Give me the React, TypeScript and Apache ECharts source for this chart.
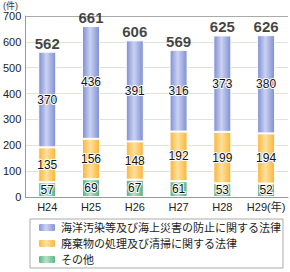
import React, { useEffect, useRef } from "react";
import * as echarts from "echarts";

const categories = ["H24", "H25", "H26", "H27", "H28", "H29(年)"];
const marinePollution = [370, 436, 391, 316, 373, 380];
const wasteDisposal = [135, 156, 148, 192, 199, 194];
const others = [57, 69, 67, 61, 53, 52];
const totals = [562, 661, 606, 569, 625, 626];
const seriesNames = [
  "海洋汚染等及び海上災害の防止に関する法律",
  "廃棄物の処理及び清掃に関する法律",
  "その他",
];

const FONT = "'Liberation Sans', Arial, 'Noto Sans CJK JP', sans-serif";

function grad(edge: string, mid: string) {
  return new echarts.graphic.LinearGradient(0, 0, 1, 0, [
    { offset: 0, color: edge },
    { offset: 0.45, color: mid },
    { offset: 1, color: edge },
  ]);
}

export default function App() {
  const ref = useRef<HTMLDivElement>(null);
  useEffect(() => {
    if (!ref.current) return;
    document.body.style.margin = "0";
    const chart = echarts.init(ref.current, undefined, { renderer: "svg" });
    const segLabel = {
      show: true,
      position: "inside" as const,
      color: "#111",
      fontSize: 12,
      fontFamily: FONT,
      textBorderColor: "#fff",
      textBorderWidth: 2,
    };
    chart.setOption({
      animation: false,
      textStyle: { fontFamily: FONT },
      grid: { left: 22, right: 2, top: 16, bottom: 75 },
      graphic: [
        {
          type: "text",
          left: 3,
          top: 1,
          style: { text: "(件)", fontSize: 9, fill: "#333", fontFamily: FONT },
        },
      ],
      legend: {
        orient: "vertical",
        left: 30,
        top: 219,
        data: seriesNames,
        borderColor: "#aaa",
        borderWidth: 1,
        padding: [3, 2, 3, 7],
        itemWidth: 18,
        itemHeight: 9,
        itemGap: 5,
        textStyle: { fontSize: 11, color: "#222", fontFamily: FONT },
      },
      xAxis: {
        type: "category",
        data: categories,
        axisLine: { lineStyle: { color: "#999" } },
        axisTick: { show: false },
        axisLabel: { interval: 0, fontSize: 11, color: "#222", margin: 4, fontFamily: FONT },
      },
      yAxis: {
        type: "value",
        min: 0,
        max: 700,
        interval: 100,
        axisLine: { show: true, lineStyle: { color: "#999" } },
        axisTick: { show: false },
        axisLabel: { fontSize: 11, color: "#222", margin: 4, fontFamily: FONT },
        splitLine: {
          lineStyle: {
            color: ["#e4e2d8", "#e4e2d8", "#e4e2d8", "#e4e2d8", "#e4e2d8", "#e4e2d8", "#e4e2d8", "#aaa"],
          },
        },
      },
      series: [
        {
          name: seriesNames[2],
          type: "bar",
          stack: "total",
          barWidth: 18,
          data: others,
          itemStyle: { color: grad("#52b07e", "#b8e2c8"), borderColor: "#fff", borderWidth: 1 },
          label: segLabel,
        },
        {
          name: seriesNames[1],
          type: "bar",
          stack: "total",
          barWidth: 18,
          data: wasteDisposal,
          itemStyle: { color: grad("#fbb436", "#ffe1a0"), borderColor: "#fff", borderWidth: 1 },
          label: segLabel,
        },
        {
          name: seriesNames[0],
          type: "bar",
          stack: "total",
          barWidth: 18,
          data: marinePollution,
          itemStyle: { color: grad("#7d8ed2", "#cbd2f2"), borderColor: "#fff", borderWidth: 1 },
          label: segLabel,
        },
        {
          name: "total",
          type: "scatter",
          data: totals,
          symbolSize: 0,
          silent: true,
          label: {
            show: true,
            position: "top",
            distance: 1,
            formatter: (p: any) => String(totals[p.dataIndex]),
            fontSize: 15,
            fontWeight: "bold",
            color: "#111",
            fontFamily: FONT,
          },
        },
      ],
    });
    return () => chart.dispose();
  }, []);
  return <div ref={ref} style={{ width: 290, height: 272 }} />;
}
